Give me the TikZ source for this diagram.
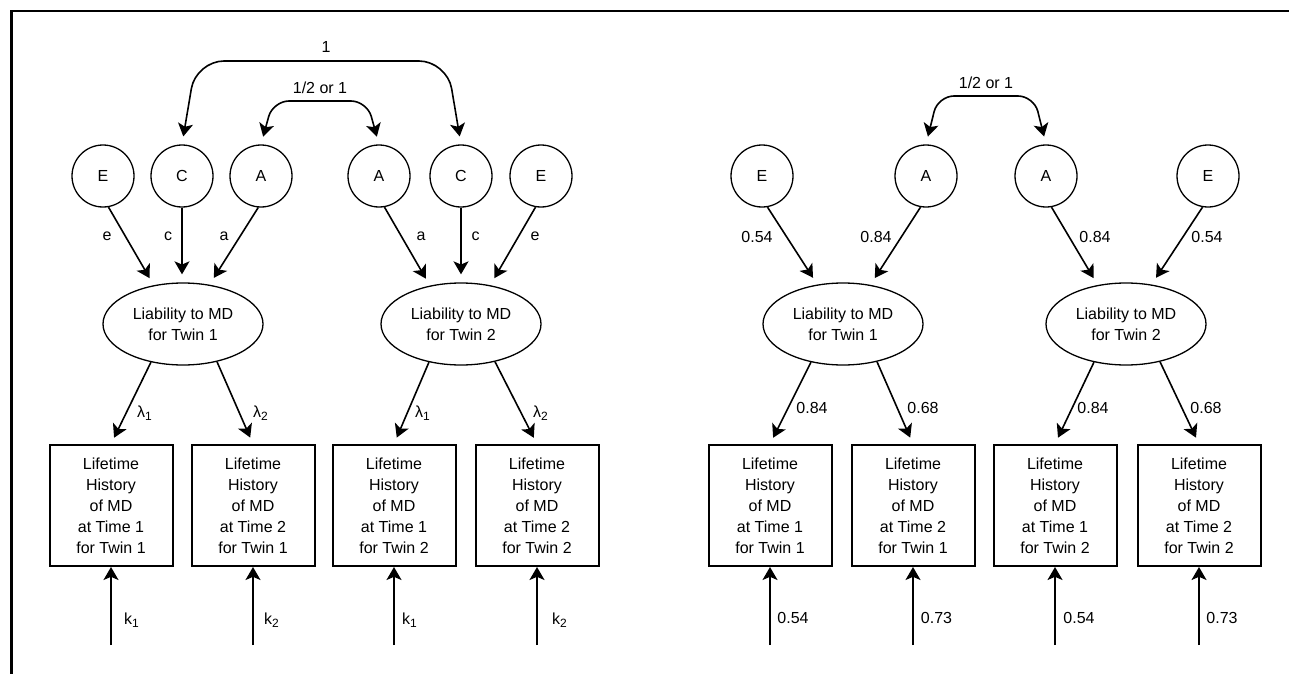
\documentclass[tikz,border=0pt]{standalone}
\usepackage{fontspec}
\setmainfont{Liberation Sans}
\usetikzlibrary{arrows.meta, shapes.geometric}
\tikzset{
    latent/.style={draw, circle, line width=0.65pt, minimum size=31pt, inner sep=0pt},
    liab/.style={draw, ellipse, line width=0.65pt, minimum width=80pt, minimum height=41pt, inner sep=0pt, align=center},
    obs/.style={draw, rectangle, line width=1pt, minimum width=61.5pt, minimum height=60.5pt, inner sep=0pt, align=center},
    arr/.style={-{Stealth[length=6.5pt, width=7.5pt, inset=1.6pt]}, line width=0.8pt},
    cov/.style={{Stealth[length=6.5pt, width=7.5pt, inset=1.6pt]}-{Stealth[length=6.5pt, width=7.5pt, inset=1.6pt]},
        line width=0.8pt, shorten <=4pt, shorten >=4pt},
    lab/.style={inner sep=0pt}
}

\begin{document}
\begin{tikzpicture}[x=0.5pt, y=-0.5pt, font=\fontsize{8pt}{10.5pt}\selectfont]
    \useasboundingbox (0,0) rectangle (1289,674);
    \draw [line width=1.1pt] (1289,10.7) -- (11.5,10.7) -- (11.5,674);

    % full model
    \begin{scope}
      \node [latent] (E1) at (103,176) {E};
      \node [latent] (C1) at (182,176) {C};
      \node [latent] (A1) at (261,176) {A};
      \node [latent] (A2) at (379,176) {A};
      \node [latent] (C2) at (461,176) {C};
      \node [latent] (E2) at (541,176) {E};

      \node [liab] (L1) at (183,324) {Liability to MD\\for Twin 1};
      \node [liab] (L2) at (461,324) {Liability to MD\\for Twin 2};

      \node [obs] (B1) at (111,505.5) {Lifetime\\History\\of MD\\at Time 1\\for Twin 1};
      \node [obs] (B2) at (253,505.5) {Lifetime\\History\\of MD\\at Time 2\\for Twin 1};
      \node [obs] (B3) at (394,505.5) {Lifetime\\History\\of MD\\at Time 1\\for Twin 2};
      \node [obs] (B4) at (537,505.5) {Lifetime\\History\\of MD\\at Time 2\\for Twin 2};

      \draw [cov, rounded corners=14pt] (C1.north) -- (196,61) -- (447,61) -- (C2.north);
      \node [lab] (lcc) at (326,47) {1};
      \draw [cov, rounded corners=8pt] (A1.north) -- (273,101) -- (367,101) -- (A2.north);
      \node [lab] (laa) at (320,88) {1/2 or 1};

      \draw [arr, shorten >=4pt] (E1.-80) -- (L1.127);
      \draw [arr, shorten >=4pt] (C1) -- (C1 |- L1.north);
      \draw [arr, shorten >=4pt] (A1.-95) -- (L1.56);
      \draw [arr, shorten >=4pt] (A2.-80) -- (L2.129);
      \draw [arr, shorten >=4pt] (C2) -- (C2 |- L2.north);
      \draw [arr, shorten >=4pt] (E2.-100) -- (L2.53);
      \node [lab] (le1) at (107,236) {e};
      \node [lab] (lc1) at (168,236) {c};
      \node [lab] (la1) at (224,236) {a};
      \node [lab] (la2) at (421,236) {a};
      \node [lab] (lc2) at (475.5,236) {c};
      \node [lab] (le2) at (535,236) {e};

      \draw [arr, shorten >=3.5pt] (L1.230) -- (B1.north);
      \draw [arr, shorten >=3.5pt] (L1.312) -- (B2.north);
      \draw [arr, shorten >=3.5pt] (L2.230) -- (B3.north);
      \draw [arr, shorten >=3.5pt] (L2.312) -- (B4.north);
      \node [lab] (ll1) at (145,413) {λ\textsubscript{1}};
      \node [lab] (ll2) at (261,413) {λ\textsubscript{2}};
      \node [lab] (ll3) at (423,413) {λ\textsubscript{1}};
      \node [lab] (ll4) at (541,413) {λ\textsubscript{2}};

      \coordinate (u1) at (111,645);
      \coordinate (u2) at (253,645);
      \coordinate (u3) at (394,645);
      \coordinate (u4) at (537,645);
      \draw [arr] (u1) -- (B1.south);
      \draw [arr] (u2) -- (B2.south);
      \draw [arr] (u3) -- (B3.south);
      \draw [arr] (u4) -- (B4.south);
      \node [lab] (lk1) at (132,620) {k\textsubscript{1}};
      \node [lab] (lk2) at (272,620) {k\textsubscript{2}};
      \node [lab] (lk3) at (410,620) {k\textsubscript{1}};
      \node [lab] (lk4) at (560,620) {k\textsubscript{2}};
    \end{scope}

    % fitted AE model
    \begin{scope}
      \node [latent] (rE1) at (762,176) {E};
      \node [latent] (rA1) at (926,176) {A};
      \node [latent] (rA2) at (1046,176) {A};
      \node [latent] (rE2) at (1208,176) {E};

      \node [liab] (rL1) at (843,324) {Liability to MD\\for Twin 1};
      \node [liab] (rL2) at (1126,324) {Liability to MD\\for Twin 2};

      \node [obs] (rB1) at (770,505.5) {Lifetime\\History\\of MD\\at Time 1\\for Twin 1};
      \node [obs] (rB2) at (913,505.5) {Lifetime\\History\\of MD\\at Time 2\\for Twin 1};
      \node [obs] (rB3) at (1055,505.5) {Lifetime\\History\\of MD\\at Time 1\\for Twin 2};
      \node [obs] (rB4) at (1199,505.5) {Lifetime\\History\\of MD\\at Time 2\\for Twin 2};

      \draw [cov, rounded corners=8pt] (rA1.north) -- (938,96) -- (1034,96) -- (rA2.north);
      \node [lab] (rlaa) at (986,83) {1/2 or 1};

      \draw [arr, shorten >=4pt] (rE1.-80) -- (rL1.123);
      \draw [arr, shorten >=4pt] (rA1.-100) -- (rL1.55);
      \draw [arr, shorten >=4pt] (rA2.-80) -- (rL2.126);
      \draw [arr, shorten >=4pt] (rE2.-100) -- (rL2.57);
      \node [lab] (rle1) at (757,237) {0.54};
      \node [lab] (rla1) at (876,237) {0.84};
      \node [lab] (rla2) at (1095,237) {0.84};
      \node [lab] (rle2) at (1207,237) {0.54};

      \draw [arr, shorten >=3.5pt] (rL1.230) -- (rB1.north);
      \draw [arr, shorten >=3.5pt] (rL1.312) -- (rB2.north);
      \draw [arr, shorten >=3.5pt] (rL2.230) -- (rB3.north);
      \draw [arr, shorten >=3.5pt] (rL2.312) -- (rB4.north);
      \node [lab] (rll1) at (812,408) {0.84};
      \node [lab] (rll2) at (923,408) {0.68};
      \node [lab] (rll3) at (1093,408) {0.84};
      \node [lab] (rll4) at (1206,408) {0.68};

      \coordinate (ru1) at (770,645);
      \coordinate (ru2) at (913,645);
      \coordinate (ru3) at (1055,645);
      \coordinate (ru4) at (1199,645);
      \draw [arr] (ru1) -- (rB1.south);
      \draw [arr] (ru2) -- (rB2.south);
      \draw [arr] (ru3) -- (rB3.south);
      \draw [arr] (ru4) -- (rB4.south);
      \node [lab] (rlk1) at (793,618) {0.54};
      \node [lab] (rlk2) at (936.5,618) {0.73};
      \node [lab] (rlk3) at (1079,618) {0.54};
      \node [lab] (rlk4) at (1222,618) {0.73};
    \end{scope}
\end{tikzpicture}
\end{document}
